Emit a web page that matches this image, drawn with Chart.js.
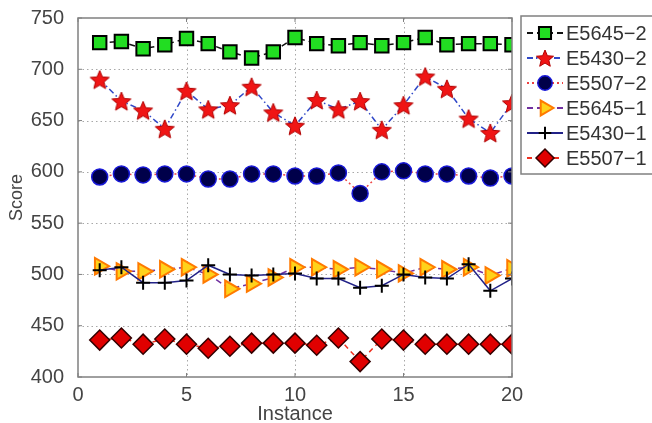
<!DOCTYPE html>
<html>
<head>
<meta charset="utf-8">
<script src="https://cdn.jsdelivr.net/npm/chart.js@4"></script>
<style>
  html, body { margin: 0; padding: 0; background: #fff; }
  #wrap { width: 652px; height: 423px; }
</style>
</head>
<body>
<div id="wrap"><canvas id="scoreChart" width="652" height="423"></canvas></div>
<script>
// instances on the x axis
const instances = [1,2,3,4,5,6,7,8,9,10,11,12,13,14,15,16,17,18,19,20];

// scores
const e5645_2 = [726,727,720,724,730,725,717,711,717,731,725,723,726,723,726,731,724,725,725,724];
const e5430_2 = [690,669,660,642,679,661,665,683,658,645,670,661,669,641,665,693,681,652,638,667];
const e5507_2 = [595,598,597,598,598,593,593,598,598,596,596,599,579,600,601,598,598,596,594,596];
const e5645_1 = [508,503,503,505,507,500,486,491,497,507,507,505,507,505,501,507,505,507,499,506];
const e5430_1 = [504,507,492,492,494,509,500,499,500,501,496,496,487,489,500,497,496,510,484,496];
const e5507_1 = [436,438,432,437,432,428,430,433,433,433,431,438,415,437,436,432,432,432,432,432];

const seriesNames = ['E5645\u22122', 'E5430\u22122', 'E5507\u22122', 'E5645\u22121', 'E5430\u22121', 'E5507\u22121'];
const xTicks = [0, 5, 10, 15, 20];
const yTicks = [400, 450, 500, 550, 600, 650, 700, 750];

const FONT = 'Liberation Sans, Arial, sans-serif';

// filled five point star, chart.js only has the line version
function makeStar(size) {
  const c = document.createElement('canvas');
  c.width = c.height = size;
  const g = c.getContext('2d');
  const cx = size / 2, cy = size / 2 + 1, R = size / 2 - 1, r = R * 0.45;
  g.beginPath();
  for (let i = 0; i < 10; i++) {
    const rad = i % 2 ? r : R;
    const a = -Math.PI / 2 + i * Math.PI / 5;
    g.lineTo(cx + rad * Math.cos(a), cy + rad * Math.sin(a));
  }
  g.closePath();
  g.fillStyle = '#f01515';
  g.fill();
  g.lineWidth = 1;
  g.strokeStyle = '#b00000';
  g.stroke();
  return c;
}
const star = makeStar(22);
const starSmall = makeStar(20);

function pts(vals) {
  return vals.map((v, i) => ({ x: instances[i], y: v }));
}

const datasets = [
  { data: pts(e5645_2), borderColor: '#111', borderDash: [6, 4], pointStyle: 'rect', pointRadius: 9.5,
    pointBackgroundColor: '#22dd22', pointBorderColor: '#000', pointBorderWidth: 2 },
  { data: pts(e5430_2), borderColor: '#3048c8', borderDash: [6, 3, 1.5, 3], pointStyle: star, pointRadius: 10,
    pointBackgroundColor: '#f01515', pointBorderColor: '#b00000', pointBorderWidth: 1, legendStyle: starSmall },
  { data: pts(e5507_2), borderColor: '#ee4040', borderDash: [2, 3], pointStyle: 'circle', pointRadius: 8,
    pointBackgroundColor: '#00004a', pointBorderColor: '#1818d8', pointBorderWidth: 1.5 },
  { data: pts(e5645_1), borderColor: '#7030a0', borderDash: [6, 4], pointStyle: 'triangle', pointRotation: 90, pointRadius: 9.5,
    pointBackgroundColor: '#ffd21a', pointBorderColor: '#ff7a00', pointBorderWidth: 2 },
  { data: pts(e5430_1), borderColor: '#222288', borderDash: [], pointStyle: 'cross', pointRadius: 7,
    pointBackgroundColor: '#000', pointBorderColor: '#000', pointBorderWidth: 2 },
  { data: pts(e5507_1), borderColor: '#ee3020', borderDash: [5, 4], pointStyle: 'rectRot', pointRadius: 10,
    pointBackgroundColor: '#e00000', pointBorderColor: '#300', pointBorderWidth: 1.5 }
].map((d, i) => Object.assign({
  label: seriesNames[i],
  borderWidth: 1.5,
  fill: false,
  tension: 0,
  pointHoverRadius: d.pointRadius,
  order: 6 - i
}, d));

// dotted grid under the data
const gridPlugin = {
  id: 'dotGrid',
  beforeDatasetsDraw(chart) {
    const { ctx, chartArea: a, scales } = chart;
    ctx.save();
    ctx.strokeStyle = '#a8a8a8';
    ctx.lineWidth = 1;
    ctx.setLineDash([1.5, 3]);
    ctx.beginPath();
    xTicks.slice(1, -1).forEach(t => {
      const x = Math.round(scales.x.getPixelForValue(t)) + 0.5;
      ctx.moveTo(x, a.top); ctx.lineTo(x, a.bottom);
    });
    yTicks.slice(1, -1).forEach(t => {
      const y = Math.round(scales.y.getPixelForValue(t)) + 0.5;
      ctx.moveTo(a.left, y); ctx.lineTo(a.right, y);
    });
    ctx.stroke();
    ctx.restore();
  }
};

// box round the plot + inward tick marks, matlab style
const framePlugin = {
  id: 'frame',
  afterDatasetsDraw(chart) {
    const { ctx, chartArea: a, scales } = chart;
    ctx.save();
    ctx.strokeStyle = '#808080';
    ctx.lineWidth = 1.5;
    ctx.setLineDash([]);
    ctx.strokeRect(a.left, a.top, a.right - a.left, a.bottom - a.top);
    ctx.lineWidth = 1;
    ctx.beginPath();
    xTicks.forEach(t => {
      const x = scales.x.getPixelForValue(t);
      ctx.moveTo(x, a.bottom); ctx.lineTo(x, a.bottom - 4);
      ctx.moveTo(x, a.top); ctx.lineTo(x, a.top + 4);
    });
    yTicks.forEach(t => {
      const y = scales.y.getPixelForValue(t);
      ctx.moveTo(a.left, y); ctx.lineTo(a.left + 4, y);
      ctx.moveTo(a.right, y); ctx.lineTo(a.right - 4, y);
    });
    ctx.stroke();
    ctx.restore();
  }
};

// legend with line samples, drawn by hand
const legendPlugin = {
  id: 'sideLegend',
  afterDraw(chart) {
    const { ctx } = chart;
    const left = 521, top = 16, bottom = 174;
    ctx.save();
    ctx.fillStyle = '#fff';
    ctx.fillRect(left, top, 200, bottom - top);
    ctx.strokeStyle = '#808080';
    ctx.lineWidth = 1.5;
    ctx.strokeRect(left, top, 200, bottom - top);
    chart.data.datasets.forEach((ds, i) => {
      const y = 33 + i * 25;
      ctx.strokeStyle = ds.borderColor;
      ctx.lineWidth = 2;
      ctx.setLineDash(ds.borderDash);
      ctx.beginPath();
      ctx.moveTo(527, y); ctx.lineTo(563, y);
      ctx.stroke();
      ctx.setLineDash([]);
      ctx.fillStyle = ds.pointBackgroundColor;
      ctx.strokeStyle = ds.pointBorderColor;
      ctx.lineWidth = ds.pointBorderWidth;
      Chart.helpers.drawPoint(ctx, {
        pointStyle: ds.legendStyle || ds.pointStyle,
        rotation: ds.pointRotation || 0,
        radius: ds.pointRadius * 0.9,
        borderWidth: ds.pointBorderWidth
      }, 545, y);
      ctx.fillStyle = '#333';
      ctx.font = '20px ' + FONT;
      ctx.textBaseline = 'middle';
      ctx.textAlign = 'left';
      ctx.fillText(ds.label, 566, y + 1);
    });
    ctx.restore();
  }
};

const ctx = document.getElementById('scoreChart').getContext('2d');

const chart = new Chart(ctx, {
  type: 'line',
  data: { datasets },
  options: {
    responsive: false,
    animation: false,
    layout: { padding: { top: 16, right: 140, left: 0, bottom: 0 } },
    plugins: { legend: { display: false }, tooltip: { enabled: false } },
    scales: {
      x: {
        type: 'linear', min: 0, max: 20,
        afterBuildTicks: s => { s.ticks = xTicks.map(v => ({ value: v })); },
        afterFit: s => { s.height = 46; },
        grid: { display: false },
        border: { display: false },
        ticks: { color: '#444', padding: -2, font: { family: FONT, size: 20 }, maxRotation: 0 },
        title: { display: true, text: 'Instance', color: '#444', padding: { top: 0, bottom: -3 },
                 font: { family: FONT, size: 20 } }
      },
      y: {
        min: 400, max: 750,
        afterBuildTicks: s => { s.ticks = yTicks.map(v => ({ value: v })); },
        afterFit: s => { s.width = 78; },
        grid: { display: false },
        border: { display: false },
        ticks: { color: '#444', padding: 6, font: { family: FONT, size: 20 } },
        title: { display: true, text: 'Score', color: '#444', padding: { top: 6, bottom: 0 },
                 font: { family: FONT, size: 18 } }
      }
    }
  },
  plugins: [gridPlugin, framePlugin, legendPlugin]
});
</script>
</body>
</html>
